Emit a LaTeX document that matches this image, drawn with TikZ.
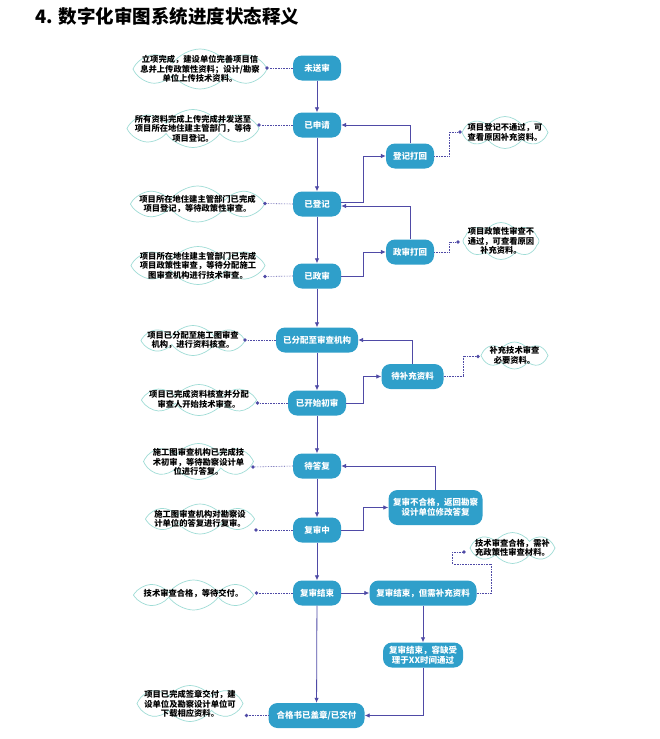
\documentclass[tikz,border=0pt]{standalone}
\usepackage{fontspec}
\newfontfamily\cjk{Noto Sans CJK SC}
\usetikzlibrary{shapes.symbols,arrows.meta}
\definecolor{boxc}{HTML}{2F9FCA}
\definecolor{arrc}{HTML}{4F4AA6}
\definecolor{cloudc}{HTML}{9FDCD6}
\tikzset{
 stbox/.style={fill=boxc, rounded corners=9pt, minimum height=25pt, minimum width=48pt, inner sep=1pt, text=white, font=\cjk\bfseries\fontsize{8.5}{10}\selectfont, align=center},
 arr/.style={draw=arrc, line width=0.8pt, -{Latex[length=5pt,width=4.5pt]}},
 dline/.style={draw=arrc, line width=0.6pt, densely dotted},
 dotn/.style={circle, fill=arrc, inner sep=0pt, minimum size=3.6pt},
 cloudb/.style={cloud, cloud puffs=8, cloud puff arc=110, cloud ignores aspect, draw=cloudc, fill=white, line width=0.7pt, inner sep=0pt},
 ctext/.style={font=\cjk\bfseries\fontsize{8.3}{9.5}\selectfont, align=center, inner sep=0pt, text=black},
}
\begin{document}
\begin{tikzpicture}[x=1pt,y=-1pt]
\useasboundingbox[fill=white] (0,0) rectangle (659,739);
\node[anchor=west, font=\cjk\bfseries\fontsize{18.5}{22}\selectfont, inner sep=0pt] (title) at (35,16) {4. 数字化审图系统进度状态释义};
% state boxes
\node[stbox] (A) at (317,68) {未送审};
\node[stbox] (B) at (317,125) {已申请};
\node[stbox] (C) at (410,156) {登记打回};
\node[stbox] (D) at (317,204) {已登记};
\node[stbox] (E) at (410,252) {政审打回};
\node[stbox] (F) at (317,276) {已政审};
\node[stbox, minimum width=82pt] (G) at (317,340) {已分配至审查机构};
\node[stbox, minimum width=62pt] (H) at (412.5,376.5) {待补充资料};
\node[stbox, minimum width=58pt] (I) at (317,403) {已开始初审};
\node[stbox] (J) at (317,466) {待答复};
\node[stbox, minimum width=94pt, minimum height=35pt] (K) at (435.5,507.5) {复审不合格，返回勘察\\设计单位修改答复};
\node[stbox] (L) at (317,530) {复审中};
\node[stbox] (M) at (317,593) {复审结束};
\node[stbox, minimum width=107pt] (N) at (423,593) {复审结束，但需补充资料};
\node[stbox, minimum width=80pt, minimum height=25pt] (O) at (423,655) {复审结束，容缺受\\理于XX时间通过};
\node[stbox, minimum width=96pt] (P) at (316.5,715.5) {合格书已盖章/已交付};
% clouds
\node[cloudb, minimum width=134pt, minimum height=40pt] (c1) at (200,69) {};
\node[ctext] (c1t) at (200,69) {立项完成，建设单位完善项目信\\息并上传政策性资料；设计/勘察\\单位上传技术资料。};
\node[cloudb, minimum width=132pt, minimum height=38pt] (c2) at (193,128.5) {};
\node[ctext] (c2t) at (193,128.5) {所有资料完成上传完成并发送至\\项目所在地住建主管部门，等待\\项目登记。};
\node[cloudb, minimum width=86pt, minimum height=32pt] (n1) at (505,132.5) {};
\node[ctext] (n1t) at (505,132.5) {项目登记不通过，可\\查看原因补充资料。};
\node[cloudb, minimum width=134pt, minimum height=36pt] (c3) at (197.5,204) {};
\node[ctext] (c3t) at (197.5,204) {项目所在地住建主管部门已完成\\项目登记，等待政策性审查。};
\node[cloudb, minimum width=76pt, minimum height=37pt] (n2) at (501,241) {};
\node[ctext] (n2t) at (501,241) {项目政策性审查不\\通过，可查看原因\\补充资料。};
\node[cloudb, minimum width=134pt, minimum height=38pt] (c4) at (198,265.5) {};
\node[ctext] (c4t) at (198,265.5) {项目所在地住建主管部门已完成\\项目政策性审查，等待分配施工\\图审查机构进行技术审查。};
\node[cloudb, minimum width=104pt, minimum height=30pt] (c5) at (193,340.5) {};
\node[ctext] (c5t) at (193,340) {项目已分配至施工图审查\\机构，进行资料核查。};
\node[cloudb, minimum width=67pt, minimum height=27pt] (n3) at (514.5,355.5) {};
\node[ctext] (n3t) at (514.5,355.5) {补充技术审查\\必要资料。};
\node[cloudb, minimum width=115pt, minimum height=31pt] (c6) at (199,400) {};
\node[ctext] (c6t) at (199,399.5) {项目已完成资料核查并分配\\审查人开始技术审查。};
\node[cloudb, minimum width=110pt, minimum height=36pt] (c7) at (198.5,461.5) {};
\node[ctext] (c7t) at (198.5,462) {施工图审查机构已完成技\\术初审，等待勘察设计单\\位进行答复。};
\node[cloudb, minimum width=109pt, minimum height=30pt] (c8) at (200,519) {};
\node[ctext] (c8t) at (200,519) {施工图审查机构对勘察设\\计单位的答复进行复审。};
\node[cloudb, minimum width=120pt, minimum height=30pt] (c9) at (193.5,595) {};
\node[ctext] (c9t) at (193.5,593.5) {技术审查合格，等待交付。};
\node[cloudb, minimum width=85pt, minimum height=31pt] (n4) at (512.5,548) {};
\node[ctext] (n4t) at (512.5,548) {技术审查合格，需补\\充政策性审查材料。};
\node[cloudb, minimum width=106pt, minimum height=36pt] (c10) at (190,703.5) {};
\node[ctext] (c10t) at (190,704) {项目已完成签章交付，建\\设单位及勘察设计单位可\\下载相应资料。};
% dots
\node[dotn] (d1) at (267,68) {};
\node[dotn] (d2) at (259,125) {};
\node[dotn] (dn1) at (460,132) {};
\node[dotn] (d3) at (265,203.5) {};
\node[dotn] (dn2) at (458,242) {};
\node[dotn] (d4) at (265,276.5) {};
\node[dotn] (d5) at (245,340) {};
\node[dotn] (dn3) at (478,356.5) {};
\node[dotn] (d6) at (257.5,403) {};
\node[dotn] (d7) at (253,467) {};
\node[dotn] (d8) at (256,530) {};
\node[dotn] (d9) at (256.5,593) {};
\node[dotn] (dn4) at (464,552) {};
\node[dotn] (d10) at (246.5,715.5) {};
% dotted connectors
\draw[dline] (A.west) -- (d1);
\draw[dline] (B.west) -- (d2);
\draw[dline] (C.east) -- ++(15,0) |- (dn1);
\draw[dline] (D.west) -- (d3);
\draw[dline] (E.east) -- ++(15,0) |- (dn2);
\draw[dline] (F.west) -- (d4);
\draw[dline] (G.west) -- (d5);
\draw[dline] (H.east) -- ++(20,0) |- (dn3);
\draw[dline] (I.west) -- (d6);
\draw[dline] (J.west) -- (d7);
\draw[dline] (L.west) -- (d8);
\draw[dline] (M.west) -- (d9);
\draw[dline] (N.east) -- ++(15,0) -- ++(0,-29) -- ++(-39,0) |- (dn4);
\draw[dline] (P.west) -- (d10);
% main flow
\draw[arr] (A) -- (B);
\draw[arr] (B) -- (D);
\draw[arr] (D) -- (F);
\draw[arr] (F) -- (G);
\draw[arr] (G) -- (I);
\draw[arr] (I) -- (J);
\draw[arr] (J) -- (L);
\draw[arr] (L) -- (M);
\draw[arr] (M) -- (P);
% loops
\draw[arr] ([yshift=2pt]D.east) -- ++(22,0) |- (C.west);
\draw[arr] (C.north) |- (B.east);
\draw[arr] (F.east) -- ++(22,0) |- (E.west);
\draw[arr] (E.north) |- ([yshift=-2pt]D.east);
\draw[arr] (I.east) -- ++(17.5,0) |- (H.west);
\draw[arr] (H.north) |- (G.east);
\draw[arr] (L.east) -- ++(22.5,0) |- (K.west);
\draw[arr] (K.north) |- (J.east);
\draw[arr] (M) -- (N);
\draw[arr] (N) -- (O);
\draw[arr] (O.south) |- (P.east);
\end{tikzpicture}
\end{document}
